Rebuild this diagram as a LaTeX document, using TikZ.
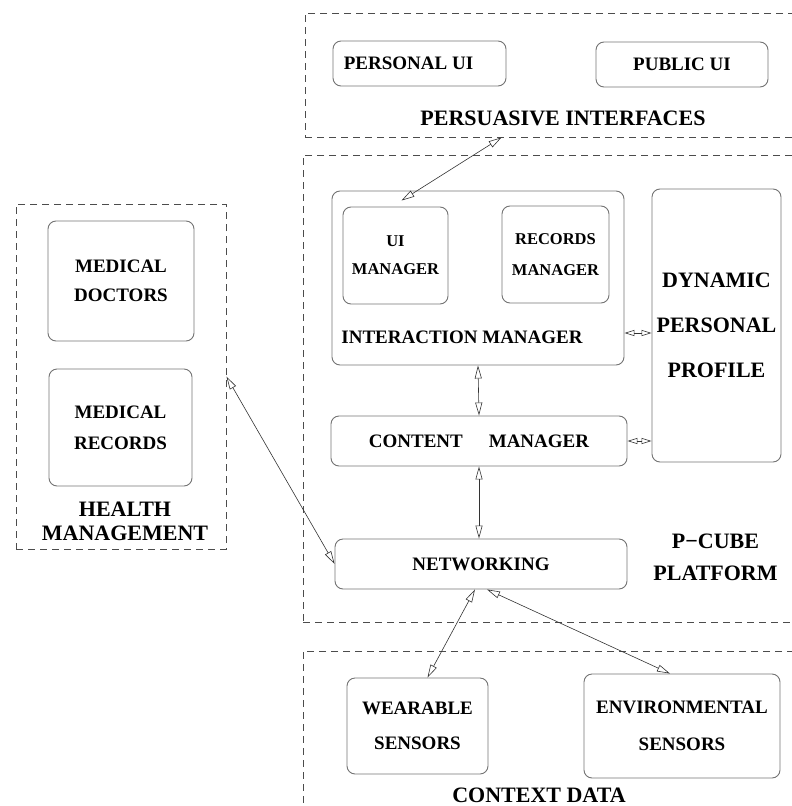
\documentclass[tikz,border=0pt]{standalone}
\usepackage{fontspec}
\setmainfont{Liberation Serif}
\usepackage{tikz}
\usetikzlibrary{positioning}
\usetikzlibrary{calc}
\usetikzlibrary{arrows.meta}

\begin{document}
\begin{tikzpicture}[x=1pt,y=-1pt,
bx/.style={draw=black!55, line width=0.9pt, rounded corners=8pt, align=center, inner sep=0pt, font=\fontsize{19}{29}\selectfont\bfseries},
grp/.style={draw=black!70, line width=0.9pt, dash pattern=on 7pt off 5pt, inner sep=0pt},
lbl/.style={align=center, inner sep=0pt, font=\fontsize{22}{24}\selectfont\bfseries},
dbl/.style={{Triangle[open,length=13pt,width=7pt]}-{Triangle[open,length=13pt,width=7pt]}, draw=black!80, line width=0.6pt},
sdbl/.style={{Triangle[open,length=10pt,width=6pt]}-{Triangle[open,length=10pt,width=6pt]}, draw=black!80, line width=0.6pt}]
\useasboundingbox (0,0) rectangle (792,806);
\clip (0,0) rectangle (792,806);
% groups
\node (persuasive) at (552.5,75) [grp, minimum width=495pt, minimum height=124pt] {};
\node (platform) at (551.5,388.5) [grp, minimum width=497pt, minimum height=467pt] {};
\node (context) at (551.5,735.5) [grp, minimum width=497pt, minimum height=169pt] {};
\node (health) at (121,376.5) [grp, minimum width=210pt, minimum height=345pt] {};
\node (persuasivelbl) at (563,118) [lbl] {PERSUASIVE INTERFACES};
\node (platformlbl) at (715.5,557) [lbl, font=\fontsize{22}{32}\selectfont\bfseries] {P−CUBE\\PLATFORM};
\node (contextlbl) at (539,795.5) [lbl] {CONTEXT DATA};
\node (healthlbl) at (125,521) [lbl] {HEALTH\\MANAGEMENT};
% boxes
\node (pui) at (419.5,63.5) [bx, minimum width=173pt, minimum height=45pt] {PERSONAL UI\hspace*{22pt}};
\node (pubui) at (682,64.5) [bx, minimum width=172pt, minimum height=45pt] {PUBLIC UI};
\node (intmgr) at (478,278) [bx, minimum width=292pt, minimum height=174pt] {};
\node (intlbl) at (462,337) [lbl, font=\fontsize{19}{24}\selectfont\bfseries] {INTERACTION MANAGER};
\node (uimgr) at (395.5,255.5) [bx, minimum width=105pt, minimum height=97pt, font=\fontsize{16.5}{28}\selectfont\bfseries] {UI\\MANAGER};
\node (recmgr) at (555.5,254.5) [bx, minimum width=107pt, minimum height=97pt, font=\fontsize{16.5}{31}\selectfont\bfseries] {RECORDS\\MANAGER};
\node (profile) at (716.5,325.5) [bx, minimum width=129pt, minimum height=273pt, font=\fontsize{22}{45}\selectfont\bfseries] {DYNAMIC\\PERSONAL\\PROFILE};
\node (contmgr) at (479,441) [bx, minimum width=296pt, minimum height=50pt] {CONTENT\hspace{26pt}MANAGER};
\node (net) at (481,564) [bx, minimum width=292pt, minimum height=50pt] {NETWORKING};
\node (wear) at (417.5,726) [bx, minimum width=141pt, minimum height=96pt, font=\fontsize{19}{35}\selectfont\bfseries] {WEARABLE\\SENSORS};
\node (env) at (682,726) [bx, minimum width=196pt, minimum height=104pt, font=\fontsize{19}{37}\selectfont\bfseries] {ENVIRONMENTAL\\SENSORS};
\node (doctors) at (121,281) [bx, minimum width=146pt, minimum height=120pt] {MEDICAL\\DOCTORS};
\node (records) at (120.5,427.5) [bx, minimum width=143pt, minimum height=117pt, font=\fontsize{19}{31}\selectfont\bfseries] {MEDICAL\\RECORDS};
% links
\draw[dbl] (persuasive.south -| recmgr.west) -- ($(uimgr.north)+(6,-6)$);
\draw[dbl] (health.east) -- (net.west);
\draw[dbl] (intmgr.south) -- (contmgr.north);
\draw[dbl] (contmgr.south) -- (contmgr.south |- net.north);
\draw[sdbl] ([yshift=-55pt]intmgr.east) -- ([yshift=-55pt]intmgr.east -| profile.west);
\draw[sdbl] (contmgr.east) -- (contmgr.east -| profile.west);
\draw[dbl] ([xshift=-6pt]net.south) -- ([xshift=10pt]wear.north);
\draw[dbl] ([xshift=6pt]net.south) -- ([xshift=-12pt]env.north);
\end{tikzpicture}
\end{document}
